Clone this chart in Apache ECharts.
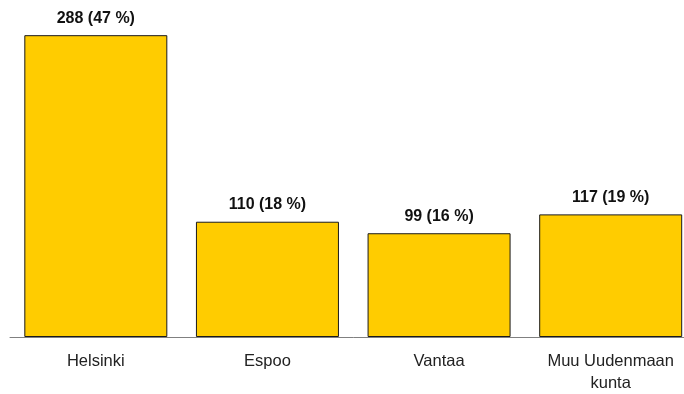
<!DOCTYPE html>
<html>
<head>
<meta charset="utf-8">
<script src="https://cdn.jsdelivr.net/npm/echarts@6/dist/echarts.min.js"></script>
<style>
  html, body { margin: 0; padding: 0; background: #fff; overflow: hidden; }
  #chart { width: 700px; height: 394px; }
</style>
</head>
<body>
<div id="chart"></div>
<script>
// Municipalities and their counts with shares
const categories = ['Helsinki', 'Espoo', 'Vantaa', 'Muu Uudenmaan\nkunta'];
const counts = [288, 110, 99, 117];
const shares = [47, 18, 16, 19];

const chart = echarts.init(document.getElementById('chart'));
chart.setOption({
  animation: false,
  grid: { left: 10, bottom: 56, top: 22.6, width: 686.5 },
  xAxis: {
    type: 'category',
    data: categories,
    axisLine: { lineStyle: { color: '#808080', width: 1 } },
    axisTick: { show: false },
    axisLabel: {
      color: '#222',
      fontFamily: 'Liberation Sans, Arial, sans-serif',
      fontSize: 16.5,
      lineHeight: 22,
      margin: 13
    }
  },
  yAxis: {
    type: 'value',
    min: 0,
    max: 300,
    show: false,
    splitLine: { show: false }
  },
  series: [{
    type: 'bar',
    data: counts,
    barWidth: 143,
    itemStyle: { color: '#FFCC00', borderColor: '#1a1a1a', borderWidth: 1 },
    label: {
      show: true,
      position: 'top',
      distance: 9,
      color: '#111',
      fontFamily: 'Liberation Sans, Arial, sans-serif',
      fontWeight: 'bold',
      fontSize: 16,
      formatter: p => p.value + ' (' + shares[p.dataIndex] + ' %)'
    }
  }]
});
</script>
</body>
</html>
